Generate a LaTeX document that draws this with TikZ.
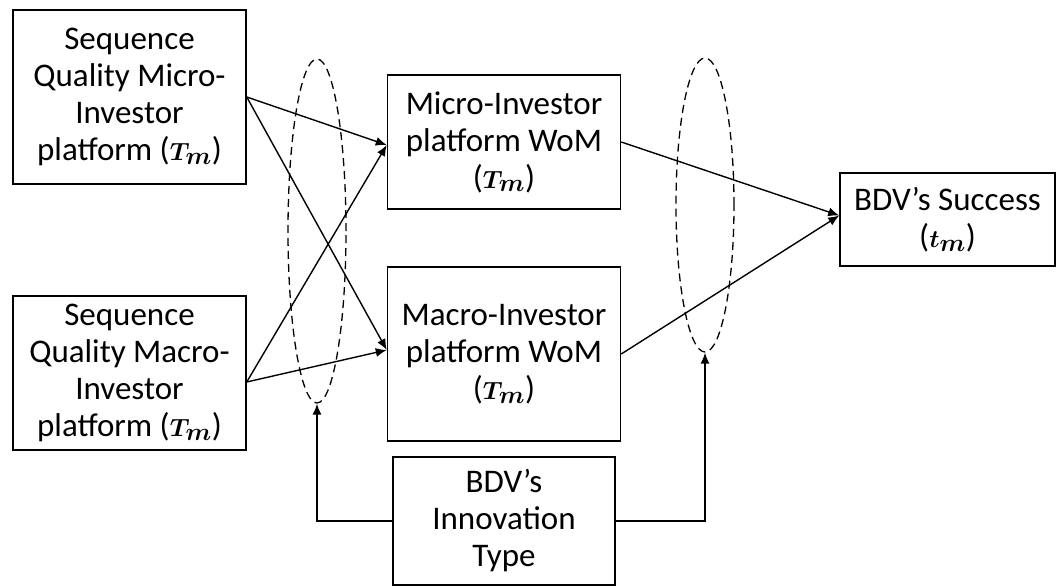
\documentclass[tikz,border=0pt]{standalone}
\usepackage{fontspec}
\setmainfont{Carlito}
\usepackage{bm}
\usetikzlibrary{arrows.meta,shapes.geometric}
\begin{document}
\begin{tikzpicture}[x=1pt,y=-1pt,
  box/.style={draw, line width=1.5pt, align=center, inner sep=0pt,
    font=\fontsize{33}{37}\selectfont},
  link/.style={line width=1.4pt, -{Latex[length=11pt,width=9pt]}},
  moderator/.style={draw, ellipse, line width=1.3pt,
    dash pattern=on 8pt off 5pt, inner sep=0pt}]
\useasboundingbox (0,0) rectangle (1057,588);

% constructs
\node[box, minimum width=233, minimum height=174] (seqmicro) at (129.5,97)
  {Sequence\\Quality Micro-\\Investor\\platform ($\bm{T_m}$)};
\node[box, minimum width=233, minimum height=154] (seqmacro) at (129.5,373)
  {Sequence\\Quality Macro-\\Investor\\platform ($\bm{T_m}$)};
\node[box, minimum width=233, minimum height=134] (womicro) at (504,142)
  {Micro-Investor\\platform WoM\\($\bm{T_m}$)};
\node[box, minimum width=233, minimum height=174] (womacro) at (504,354)
  {Macro-Investor\\platform WoM\\($\bm{T_m}$)};
\node[box, minimum width=222, minimum height=128] (innov) at (504,521)
  {BDV's\\Innovation\\Type};
\node[box, minimum width=215, minimum height=93] (success) at (947.5,219.5)
  {BDV's Success\\($\bm{t_m}$)};

% moderation ellipses
\node[moderator, minimum width=58, minimum height=344] (mod1) at (317,231) {};
\node[moderator, minimum width=58, minimum height=294] (mod2) at (705,205) {};

% direct effects
\draw[link] (seqmicro.east) -- ([yshift=-3pt]womicro.west);
\draw[link] (seqmicro.east) -- ([yshift=4pt]womacro.west);
\draw[link] ([yshift=-9pt]seqmacro.east) -- ([yshift=-3pt]womicro.west);
\draw[link] ([yshift=-9pt]seqmacro.east) -- ([yshift=4pt]womacro.west);
\draw[link] (womicro.east) -- ([yshift=4pt]success.west);
\draw[link] (womacro.east) -- ([yshift=4pt]success.west);

% moderator links
\draw[link] (innov.west) -| (mod1.south);
\draw[link] (innov.east) -| (mod2.south);
\end{tikzpicture}
\end{document}
